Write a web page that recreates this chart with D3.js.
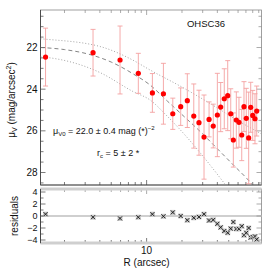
<!DOCTYPE html>
<html>
<head>
<meta charset="utf-8">
<script src="https://cdn.jsdelivr.net/npm/d3@7"></script>
<style>
body { margin: 0; background: #fff; }
text { font-family: "Liberation Sans", Arial, sans-serif; fill: #111; }
</style>
</head>
<body>
<svg id="chart" width="270" height="270"></svg>
<script>
// radius of each bin (arcsec) and surface brightness
var radius = [1.38, 3.5, 5.94, 8.5, 11.2, 13.9, 16.7, 19.5, 22.2, 25.2, 27.9, 30.8, 34.0, 36.9, 40.0,
  42.7, 45.8, 49.0, 52.0, 54.7, 58.0, 61.1, 64.5, 67.4, 70.5, 73.9, 76.9, 80.0, 83.6, 86.5];
var mu = [22.46, 22.25, 22.60, 23.24, 24.18, 24.22, 25.18, 24.84, 24.55, 25.29, 25.61, 26.30, 25.45, 25.77, 25.24,
  24.86, 24.46, 24.31, 25.18, 26.44, 25.48, 25.59, 26.20, 24.84, 25.40, 26.34, 24.87, 25.26, 25.42, 25.05];
var muErr = [1.39, 1.12, 1.63, 0.96, 0.93, 1.46, 0.75, 0.9, 1.29, 1.54, 1.56, 2.02, 0.84, 1.05, 2.0,
  1.18, 1.44, 1.68, 1.2, 1.3, 1.35, 1.2, 1.23, 1.2, 1.44, 2.2, 1.2, 1.2, 1.2, 1.2];
var resid = [0.3, -0.2, -0.4, -0.2, 0.3, -0.05, 0.6, 0.0, -0.7, -0.3, -0.15, 0.3, -0.75, -0.65, -1.3,
  -1.9, -2.5, -2.8, -2.1, -1.0, -2.15, -2.15, -1.7, -3.2, -2.8, -2.0, -3.6, -3.5, -3.4, -3.9];

// fitted profile and its bounds
var fitR = [1.25, 2, 3.5, 5, 7.7, 10.7, 15, 20, 29.4, 40, 55, 73.3, 80];
var fitMu = [22.0, 22.1, 22.38, 22.7, 23.27, 23.8, 24.57, 25.22, 26.1, 26.86, 27.65, 28.36, 28.6];
var upR = [1.25, 1.37, 4, 7.6, 10.7, 20, 35, 58.5, 95];
var upMu = [21.58, 21.6, 21.95, 22.6, 23.08, 23.9, 24.7, 25.48, 26.15];
var loR = [1.25, 1.37, 4, 7.7, 10.7, 15, 21.2, 30, 43.6, 47];
var loMu = [22.45, 22.47, 23.2, 24.12, 24.52, 25.3, 26.2, 27.2, 28.36, 28.6];

var muTicks = [22, 24, 26, 28];
var resTicks = [-4, -2, 0, 2, 4];

var svg = d3.select("#chart");
var pLeft = 40.5, pRight = 261.5, pTop = 10, mainBottom = 185, resTop = 189, resBottom = 243;

var x = d3.scaleLog().domain([1.25, 95]).range([pLeft, pRight]);
var y = d3.scaleLinear().domain([20.2, 28.6]).range([pTop, mainBottom]);
var yr = d3.scaleLinear().domain([-4.5, 4.5]).range([resBottom, resTop]);

var axisColor = "#444";
var edgeColor = "#888";

// minor log ticks
var xMinor = [];
[1, 10].forEach(function(dec) {
  for (var k = 2; k <= 9; k++) { if (k * dec >= 1.25 && k * dec <= 95) xMinor.push(k * dec); }
});
xMinor.push(10);

function frame(y0, y1) {
  svg.append("rect").attr("x", pLeft).attr("y", y0).attr("width", pRight - pLeft).attr("height", y1 - y0)
    .attr("fill", "none").attr("stroke", edgeColor).attr("stroke-width", 0.8);
  svg.append("line").attr("x1", pLeft).attr("x2", pLeft).attr("y1", y0).attr("y2", y1)
    .attr("stroke", axisColor).attr("stroke-width", 0.9);
  svg.append("line").attr("x1", pLeft).attr("x2", pRight).attr("y1", y1).attr("y2", y1)
    .attr("stroke", axisColor).attr("stroke-width", 0.9);
  xMinor.forEach(function(v) {
    var len = v == 10 ? 5 : 3;
    svg.append("line").attr("x1", x(v)).attr("x2", x(v)).attr("y1", y0).attr("y2", y0 + len).attr("stroke", edgeColor).attr("stroke-width", 0.7);
    svg.append("line").attr("x1", x(v)).attr("x2", x(v)).attr("y1", y1).attr("y2", y1 - len).attr("stroke", axisColor).attr("stroke-width", 0.7);
  });
}

// ---- main panel ----
frame(pTop, mainBottom);

for (var m = 20.5; m <= 28.5; m += 0.5) {
  var major = muTicks.indexOf(m) >= 0;
  var len = major ? 5 : 3;
  svg.append("line").attr("x1", pLeft).attr("x2", pLeft + len).attr("y1", y(m)).attr("y2", y(m)).attr("stroke", axisColor).attr("stroke-width", 0.7);
  svg.append("line").attr("x1", pRight).attr("x2", pRight - len).attr("y1", y(m)).attr("y2", y(m)).attr("stroke", edgeColor).attr("stroke-width", 0.7);
}
muTicks.forEach(function(t) {
  svg.append("text").attr("x", pLeft - 3).attr("y", y(t)).attr("dy", "0.35em")
    .attr("text-anchor", "end").attr("font-size", 10).text(t);
});

svg.append("clipPath").attr("id", "mainClip").append("rect")
  .attr("x", pLeft).attr("y", pTop).attr("width", pRight - pLeft).attr("height", mainBottom - pTop);
var g = svg.append("g").attr("clip-path", "url(#mainClip)");

var line = d3.line().curve(d3.curveMonotoneX)
  .x(function(d) { return x(d[0]); })
  .y(function(d) { return y(d[1]); });

g.append("path").attr("d", line(d3.zip(upR, upMu))).attr("fill", "none")
  .attr("stroke", "#9a9a9a").attr("stroke-width", 0.9).attr("stroke-dasharray", "1,2");
g.append("path").attr("d", line(d3.zip(loR, loMu))).attr("fill", "none")
  .attr("stroke", "#9a9a9a").attr("stroke-width", 0.9).attr("stroke-dasharray", "1,2");
g.append("path").attr("d", line(d3.zip(fitR, fitMu))).attr("fill", "none")
  .attr("stroke", "#777").attr("stroke-width", 0.9).attr("stroke-dasharray", "4,3");

var pts = d3.zip(radius, mu, muErr);
var bars = g.selectAll(".bar").data(pts).enter().append("g").attr("class", "bar")
  .attr("stroke", "#f4a0a0").attr("stroke-width", 0.9);
bars.append("line")
  .attr("x1", function(d) { return x(d[0]); }).attr("x2", function(d) { return x(d[0]); })
  .attr("y1", function(d) { return y(d[1] - d[2]); }).attr("y2", function(d) { return y(d[1] + d[2]); });
bars.append("line")
  .attr("x1", function(d) { return x(d[0]) - 2.5; }).attr("x2", function(d) { return x(d[0]) + 2.5; })
  .attr("y1", function(d) { return y(d[1] - d[2]); }).attr("y2", function(d) { return y(d[1] - d[2]); });
bars.append("line")
  .attr("x1", function(d) { return x(d[0]) - 2.5; }).attr("x2", function(d) { return x(d[0]) + 2.5; })
  .attr("y1", function(d) { return y(d[1] + d[2]); }).attr("y2", function(d) { return y(d[1] + d[2]); });

g.selectAll(".pt").data(pts).enter().append("circle")
  .attr("cx", function(d) { return x(d[0]); })
  .attr("cy", function(d) { return y(d[1]); })
  .attr("r", 2.6).attr("fill", "#ff0000");

svg.append("text").attr("x", 206).attr("y", 24).attr("dy", "0.35em").attr("text-anchor", "middle")
  .attr("font-size", 9.5).text("OHSC36");

var t1 = svg.append("text").attr("x", 53).attr("y", 134).attr("font-size", 9);
t1.append("tspan").text("\u03bc");
t1.append("tspan").attr("font-size", 6).attr("dy", 2).text("V0");
t1.append("tspan").attr("dy", -2).text(" = 22.0 \u00b1 0.4 mag (*)");
t1.append("tspan").attr("font-size", 6).attr("dy", -4).text("\u22122");

var t2 = svg.append("text").attr("x", 97).attr("y", 156).attr("font-size", 9);
t2.append("tspan").text("r");
t2.append("tspan").attr("font-size", 6).attr("dy", 2).text("c");
t2.append("tspan").attr("dy", -2).text(" = 5 \u00b1 2 *");

var yl = svg.append("text").attr("transform", "translate(15,100) rotate(-90)")
  .attr("text-anchor", "middle").attr("font-size", 10);
yl.append("tspan").text("\u03bc");
yl.append("tspan").attr("font-size", 7).attr("dy", 2).text("V");
yl.append("tspan").attr("dy", -2).text(" (mag/arcsec");
yl.append("tspan").attr("font-size", 7).attr("dy", -4).text("2");
yl.append("tspan").attr("dy", 4).text(")");

// ---- residual panel ----
frame(resTop, resBottom);
svg.append("line").attr("x1", pLeft).attr("x2", pRight).attr("y1", resTop).attr("y2", resTop)
  .attr("stroke", "#cfcfcf").attr("stroke-width", 3);
svg.append("line").attr("x1", pLeft).attr("x2", pRight).attr("y1", resBottom).attr("y2", resBottom)
  .attr("stroke", "#cfcfcf").attr("stroke-width", 3);
svg.append("line").attr("x1", pLeft).attr("x2", pRight).attr("y1", yr(0)).attr("y2", yr(0))
  .attr("stroke", "#cfcfcf").attr("stroke-width", 2);
svg.append("line").attr("x1", pLeft).attr("x2", pLeft).attr("y1", resTop).attr("y2", resBottom)
  .attr("stroke", axisColor).attr("stroke-width", 0.9);

for (var r = -4; r <= 4; r += 1) {
  var len2 = r % 2 == 0 ? 5 : 3;
  svg.append("line").attr("x1", pLeft).attr("x2", pLeft + len2).attr("y1", yr(r)).attr("y2", yr(r)).attr("stroke", axisColor).attr("stroke-width", 0.7);
  svg.append("line").attr("x1", pRight).attr("x2", pRight - len2).attr("y1", yr(r)).attr("y2", yr(r)).attr("stroke", edgeColor).attr("stroke-width", 0.7);
}
resTicks.forEach(function(t) {
  svg.append("text").attr("x", pLeft - 3).attr("y", yr(t)).attr("dy", "0.35em")
    .attr("text-anchor", "end").attr("font-size", 9).text(t < 0 ? "\u2212" + (-t) : t);
});

var rp = svg.selectAll(".res").data(d3.zip(radius, resid)).enter().append("g")
  .attr("transform", function(d) { return "translate(" + x(d[0]) + "," + yr(d[1]) + ")"; });
rp.append("rect").attr("x", -2.5).attr("y", -2.5).attr("width", 5).attr("height", 5).attr("fill", "#c8c8c8");
rp.append("path").attr("d", "M-2,-2L2,2M-2,2L2,-2").attr("stroke", "#111").attr("stroke-width", 0.9);

svg.append("text").attr("transform", "translate(18,216) rotate(-90)")
  .attr("text-anchor", "middle").attr("font-size", 10).text("residuals");

svg.append("text").attr("x", x(10)).attr("y", 254).attr("text-anchor", "middle").attr("font-size", 10).text("10");
svg.append("text").attr("x", x(10)).attr("y", 266).attr("text-anchor", "middle").attr("font-size", 10).text("R (arcsec)");
</script>
</body>
</html>
